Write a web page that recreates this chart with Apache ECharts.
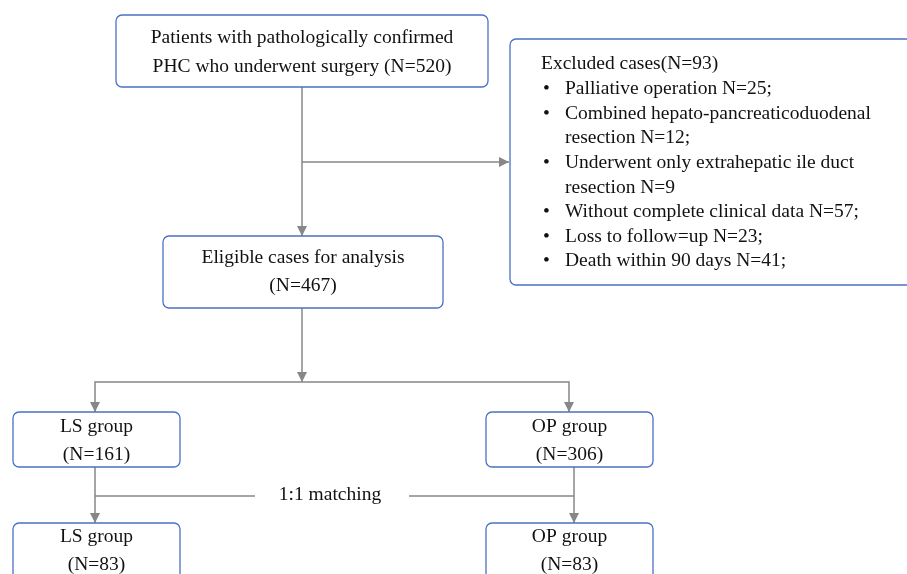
<!DOCTYPE html>
<html>
<head>
<meta charset="utf-8">
<script src="https://cdn.jsdelivr.net/npm/echarts@6/dist/echarts.min.js"></script>
<style>
  html, body { margin: 0; padding: 0; background: #fff; }
  #chart { width: 907px; height: 574px; }
</style>
</head>
<body>
<div id="chart"></div>
<script>
// flow chart content
var boxTitles = ['Patients with pathologically confirmed', 'Eligible cases for analysis', 'LS group', 'OP group', 'LS group', 'OP group'];
var boxCounts = ['PHC who underwent surgery (N=520)', '(N=467)', '(N=161)', '(N=306)', '(N=83)', '(N=83)'];
var excludedTitle = 'Excluded cases(N=93)';
var excludedItems = [
    ['Palliative operation N=25;'],
    ['Combined hepato-pancreaticoduodenal', 'resection N=12;'],
    ['Underwent only extrahepatic ile duct', 'resection N=9'],
    ['Without complete clinical data N=57;'],
    ['Loss to follow=up N=23;'],
    ['Death within 90 days N=41;']
];
var matchingLabel = '1:1 matching';

// layout in page units (x, y, w, h) and line placement
var boxRects = [
    [116, 15, 372, 72], [163, 236, 280, 72],
    [13, 412, 167, 55], [486, 412, 167, 55],
    [13, 523, 167, 70], [486, 523, 167, 70]
];
var boxLines = [[38, 67], [258, 286], [427, 455], [427, 455], [537, 565], [537, 565]];
var excludedRect = [510, 39, 410, 246];
var connectors = [
    { pts: [[302, 87], [302, 236]], arrow: true },
    { pts: [[302, 162], [509, 162]], arrow: true },
    { pts: [[302, 308], [302, 382]], arrow: true },
    { pts: [[302, 382], [95, 382], [95, 412]], arrow: true },
    { pts: [[302, 382], [569, 382], [569, 412]], arrow: true },
    { pts: [[95, 467], [95, 523]], arrow: true },
    { pts: [[574, 467], [574, 523]], arrow: true },
    { pts: [[95, 496], [255, 496]], arrow: false },
    { pts: [[409, 496], [574, 496]], arrow: false }
];
var matchingPos = [330, 495];

var FONT = '"Liberation Serif", "Times New Roman", serif';
var FS = 19.5;
var BORDER = '#4a72c4';
var LINE = '#878787';

function txt(p, s, align) {
    return {
        type: 'text', x: p[0], y: p[1],
        style: { text: s, fontFamily: FONT, fontSize: FS, fill: '#111', align: align || 'center', verticalAlign: 'middle' }
    };
}

var myChart = echarts.init(document.getElementById('chart'));
myChart.setOption({
    animation: false,
    grid: { left: 0, right: 0, top: 0, bottom: 0 },
    xAxis: { type: 'value', min: 0, max: 907, show: false },
    yAxis: { type: 'value', min: 0, max: 574, inverse: true, show: false },
    series: [{
        // connectors
        type: 'custom',
        clip: false,
        data: connectors.map(function (c, i) { return [i]; }),
        renderItem: function (params, api) {
            var c = connectors[api.value(0)];
            var pts = c.pts.map(function (p) { return api.coord(p); });
            var children = [{
                type: 'polyline',
                shape: { points: pts },
                style: { stroke: LINE, lineWidth: 1.5, fill: null }
            }];
            if (c.arrow) {
                var a = pts[pts.length - 2], b = pts[pts.length - 1];
                var dx = b[0] - a[0], dy = b[1] - a[1];
                var len = Math.sqrt(dx * dx + dy * dy);
                var ux = dx / len, uy = dy / len;
                var L = 10, W = 5;
                children.push({
                    type: 'polygon',
                    shape: { points: [
                        [b[0], b[1]],
                        [b[0] - ux * L - uy * W, b[1] - uy * L + ux * W],
                        [b[0] - ux * L + uy * W, b[1] - uy * L - ux * W]
                    ] },
                    style: { fill: LINE }
                });
            }
            return { type: 'group', children: children };
        }
    }, {
        // boxes
        type: 'custom',
        clip: false,
        data: boxTitles.map(function (t, i) { return [i]; }),
        renderItem: function (params, api) {
            var i = api.value(0);
            var r = boxRects[i];
            var p0 = api.coord([r[0], r[1]]);
            var p1 = api.coord([r[0] + r[2], r[1] + r[3]]);
            var cx = (p0[0] + p1[0]) / 2;
            return {
                type: 'group',
                children: [{
                    type: 'rect',
                    shape: { x: p0[0], y: p0[1], width: p1[0] - p0[0], height: p1[1] - p0[1], r: 6 },
                    style: { fill: '#fff', stroke: BORDER, lineWidth: 1.3 }
                },
                txt([cx, api.coord([0, boxLines[i][0]])[1]], boxTitles[i]),
                txt([cx, api.coord([0, boxLines[i][1]])[1]], boxCounts[i])]
            };
        }
    }, {
        // excluded box
        type: 'custom',
        clip: false,
        data: [[0]],
        renderItem: function (params, api) {
            var r = excludedRect;
            var p0 = api.coord([r[0], r[1]]);
            var p1 = api.coord([r[0] + r[2], r[1] + r[3]]);
            var children = [{
                type: 'rect',
                shape: { x: p0[0], y: p0[1], width: p1[0] - p0[0], height: p1[1] - p0[1], r: 6 },
                style: { fill: '#fff', stroke: BORDER, lineWidth: 1.3 }
            }, txt(api.coord([541, 64]), excludedTitle, 'left')];
            var y = 89;
            excludedItems.forEach(function (item) {
                children.push(txt(api.coord([543, y]), '\u2022', 'left'));
                item.forEach(function (line) {
                    children.push(txt(api.coord([565, y]), line, 'left'));
                    y += 24.6;
                });
            });
            return { type: 'group', children: children };
        }
    }, {
        // matching label
        type: 'custom',
        clip: false,
        data: [[0]],
        renderItem: function (params, api) {
            return txt(api.coord(matchingPos), matchingLabel);
        }
    }]
});
</script>
</body>
</html>
